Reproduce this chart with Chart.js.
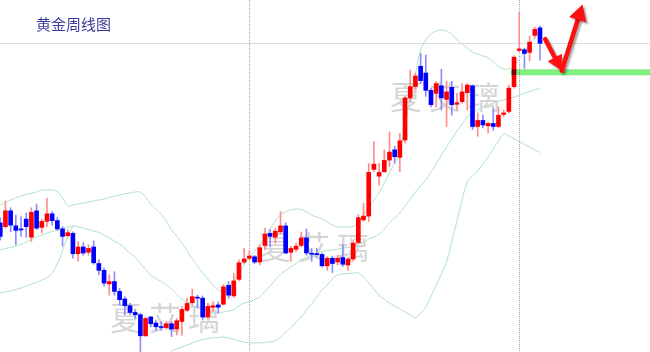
<!DOCTYPE html>
<html>
<head>
<meta charset="utf-8">
<script src="https://cdn.jsdelivr.net/npm/chart.js@4.4.0/dist/chart.umd.min.js"></script>
<style>
  html, body { margin: 0; padding: 0; background: #fff; }
  #wrap { position: relative; width: 650px; height: 352px; }
  #title { position: absolute; left: 36px; top: 13px; font: 15px "Noto Sans CJK SC", sans-serif; color: #3c3c9c; }
</style>
</head>
<body>
<div id="wrap">
  <canvas id="chart" width="650" height="352"></canvas>
  <div id="title">黄金周线图</div>
</div>
<script>
// weekly gold candles, one entry per week (index = week number on the chart)
const opens = [1331,1326,1347,1327,1323,1336,1312,1347,1325,1333,
  1343,1334,1323,1314,1317,1290,1299,1292,1299,1277,
  1268,1250,1253,1240,1230,1221,1212,1209,1181,1206,
  1198,1193,1192,1197,1190,1200,1215,1225,1232,1231,
  1206,1219,1222,1223,1248,1234,1256,1279,1284,1286,
  1279,1301,1317,1312,1319,1327,1292,1296,1301,1311,
  1290.6,1290.1,1289,1274,1284,1279,1285,1275,1283,1305,
  1335,1340,1402,1393,1399,1414.5,1428,1418,1441,1497,
  1512,1539,1530,1507,1503,1513,1495,1511,1488.5,1492,
  1504,1513,1459,1467,1460,1463,1459,1475,1479,1512,
  1560,1561,1557.5,1580,1590];
const highs = [1338,1360,1351,1341,1339,1344,1351,1356,1336,1364,
  1346,1338,1326,1322,1319,1306,1305,1302,1307,1282,
  1271,1262,1266,1244,1233,1224,1215,1211,1206,1207,
  1202,1200,1200,1200,1204,1220,1231,1243,1235,1234,
  1224,1226,1226,1249,1253,1264,1282,1297,1294,1288,
  1302,1324,1322,1324,1346,1331,1300,1304,1319,1323,
  1297,1297,1291,1286,1287,1288,1302,1285,1307,1342,
  1357,1410,1439,1410,1428,1452,1433,1450,1499,1534,
  1530,1556,1554,1510,1519,1535,1519,1519,1503,1516,
  1516,1514,1477,1474,1465,1483,1485,1481,1514,1553,
  1611,1563,1579,1591,1592.5];
const lows = [1308,1324,1319,1302,1313,1312,1306,1322,1318,1326,
  1328,1321,1300,1312,1284,1280,1288,1288,1276,1262,
  1247,1235,1235,1222,1209,1209,1204,1160,1180,1193,
  1188,1188,1190,1180,1182,1182,1213,1222,1218,1202,
  1204,1213,1211,1222,1231,1232,1254,1277,1282,1277,
  1275,1295,1299,1304,1317,1290,1280,1293,1299,1288,
  1280,1286,1272,1268,1265,1275,1273,1268,1280,1303,
  1333,1333,1399,1381,1398,1406,1410,1399,1437,1492,
  1508,1516,1499,1485,1485,1481,1459,1474,1481,1490,
  1481,1455,1446,1457,1450,1454,1457,1472,1477,1510,
  1558,1536,1546,1576,1547];
const closes = [1313,1347,1328,1321,1321.6,1326,1345,1324,1333,1343,
  1334,1323,1313,1318,1290,1299,1291,1297,1278,1268,
  1251,1253,1240,1229,1221,1212,1209,1181,1204,1197,
  1193,1192,1197,1190,1201,1216,1224,1233,1231,1206,
  1220,1221,1219,1246,1235,1254,1278,1283,1287,1279,
  1298,1316,1313,1320,1327,1291,1297,1300,1311,1291,
  1289.3,1288.8,1274,1284,1277,1284,1276,1283,1304,1338,
  1340,1398,1409,1398,1414,1425,1419,1440,1497,1512,
  1526,1520,1507,1488,1516,1497,1505,1488,1490.6,1505,
  1514,1459,1467,1461,1463,1459,1474,1477,1510,1551,
  1562,1556,1571,1588,1569.5];

// Bollinger bands as drawn on the chart
const bandUpper = [1354.8,1358.1,1361.4,1364.1,1366.7,1368.7,1370.3,1372.0,1374.7,1374.7,
  1374.7,1372.0,1364.1,1353.4,1354.8,1356.1,1357.4,1358.7,1360.1,1361.4,
  1362.7,1364.7,1366.7,1368.0,1369.4,1370.7,1372.0,1372.0,1365.4,1356.1,
  1349.4,1342.8,1333.5,1321.6,1313.6,1304.3,1293.7,1283.0,1273.8,1264.5,
  1256.5,1248.5,1241.9,1240.6,1245.9,1253.8,1264.5,1275.1,1284.4,1293.7,
  1301.6,1312.3,1322.9,1333.5,1341.5,1345.5,1348.1,1349.4,1348.8,1345.5,
  1341.5,1338.8,1336.2,1332.2,1328.2,1325.5,1325.5,1325.5,1326.2,1332.2,
  1341.5,1352.1,1361.4,1370.7,1384.0,1397.3,1410.5,1425.1,1462.3,1498.2,
  1528.7,1560.6,1573.9,1581.8,1585.8,1587.2,1585.8,1581.8,1573.9,1568.6,
  1563.3,1557.9,1555.3,1552.6,1550.6,1544.7,1538.7,1535.4,1535.4,1540.7,
  1548.6,1557.9,1568.6,1577.9,1587.2];
const bandMiddle = [1295.0,1296.7,1298.5,1300.3,1302.2,1305.6,1308.9,1312.3,1314.9,1317.3,
  1319.6,1321.6,1323.4,1325.3,1326.9,1325.5,1324.2,1322.2,1320.2,1318.2,
  1314.9,1310.9,1307.0,1303.0,1297.0,1291.0,1285.0,1277.1,1269.1,1261.1,
  1257.2,1253.2,1248.5,1243.2,1236.6,1229.9,1225.9,1222.0,1218.0,1215.3,
  1214.0,1212.0,1211.3,1212.7,1214.0,1215.3,1220.6,1224.6,1225.9,1229.3,
  1232.6,1239.9,1247.2,1255.2,1262.5,1267.8,1272.4,1277.1,1281.7,1285.7,
  1288.4,1291.0,1293.0,1294.3,1295.0,1296.3,1297.7,1298.3,1299.6,1303.0,
  1305.6,1309.6,1312.3,1316.2,1322.9,1330.9,1337.5,1344.1,1353.4,1362.7,
  1372.0,1380.0,1388.0,1398.6,1409.2,1421.2,1431.8,1442.4,1453.0,1462.3,
  1471.6,1476.9,1480.9,1484.9,1487.6,1490.2,1492.2,1494.2,1496.2,1498.2,
  1500.2,1503.5,1505.5,1507.5,1510.1];
const bandLower = [1237.9,1239.2,1240.6,1242.5,1244.5,1247.2,1249.8,1251.8,1255.2,1257.8,
  1264.5,1276.4,1293.7,1313.6,1326.9,null,null,null,null,null,
  null,null,null,null,null,null,null,null,null,null,
  null,null,1154.2,1160.9,1163.5,1166.2,1168.8,1171.5,1174.2,1176.1,
  1177.5,1178.1,1178.8,1179.5,1178.1,1176.1,1174.2,1172.8,1171.5,1171.5,
  1171.5,1172.2,1172.8,1174.2,1179.5,1186.1,1191.4,1199.4,1206.0,1215.3,
  1223.3,1232.6,1241.9,1248.5,1256.5,1261.8,1263.1,1263.8,1264.5,1264.5,
  1259.1,1251.2,1243.2,1235.2,1229.9,1224.6,1220.6,1216.6,1212.7,1208.7,
  1204.7,1211.3,1219.3,1233.9,1248.5,1263.1,1279.1,1305.6,1333.5,1361.4,
  1385.3,1393.3,1399.9,1409.2,1418.5,1429.1,1439.8,1449.0,1446.4,1442.4,
  1439.1,1435.1,1431.8,1427.8,1424.5];

const yearStarts = [48, 100];      // weeks where a new year begins
const refLevel = 1570;             // grey price line
const supportLevel = 1531;         // green support
const supportFrom = 98.4;
const forecast = [[105.0, 1575], [108.2, 1533], [112.2, 1621]];  // pullback then up
const watermark = '夏艾璃';

const RED = '#ff0000', BLUE = '#0000ff';
const isUp = opens.map((o, i) => closes[i] >= o);

const pts = arr => arr.map((v, i) => ({ x: i, y: v }));

const backdrop = {
  id: 'backdrop',
  beforeDatasetsDraw(chart) {
    const { ctx, chartArea: a, scales: { x, y } } = chart;
    ctx.save();
    ctx.font = '32px "Noto Sans CJK SC"';
    ctx.fillStyle = 'rgba(150,150,150,0.4)';
    ctx.textAlign = 'center';
    ctx.textBaseline = 'middle';
    [[406, 97], [275, 247], [126, 318]].forEach(([cx, cy]) => {
      [...watermark].forEach((ch, k) => ctx.fillText(ch, cx + k * 39, cy));
    });

    const yr = Math.round(y.getPixelForValue(refLevel)) + 0.5;
    ctx.strokeStyle = '#dcdcdc';
    ctx.lineWidth = 1;
    ctx.beginPath();
    ctx.moveTo(a.left, yr);
    ctx.lineTo(a.right, yr);
    ctx.stroke();

    ctx.strokeStyle = '#a8a8a8';
    ctx.setLineDash([1, 1]);
    yearStarts.forEach(w => {
      const px = Math.round(x.getPixelForValue(w)) + 0.5;
      ctx.beginPath();
      ctx.moveTo(px, a.top);
      ctx.lineTo(px, a.bottom);
      ctx.stroke();
    });
    ctx.restore();
  }
};

function arrow(ctx, x0, y0, x1, y1, head, half) {
  const ang = Math.atan2(y1 - y0, x1 - x0);
  const bx = x1 - Math.cos(ang) * head, by = y1 - Math.sin(ang) * head;
  ctx.beginPath();
  ctx.moveTo(x0, y0);
  ctx.lineTo(bx, by);
  ctx.stroke();
  ctx.beginPath();
  ctx.moveTo(x1, y1);
  ctx.lineTo(bx + Math.sin(ang) * half, by - Math.cos(ang) * half);
  ctx.lineTo(bx - Math.sin(ang) * half, by + Math.cos(ang) * half);
  ctx.closePath();
  ctx.fill();
}

const overlay = {
  id: 'overlay',
  afterDatasetsDraw(chart) {
    const { ctx, chartArea: a, scales: { x, y } } = chart;
    ctx.save();
    ctx.globalCompositeOperation = 'multiply';
    ctx.fillStyle = '#80f080';
    const gy = y.getPixelForValue(supportLevel);
    const gx = x.getPixelForValue(supportFrom);
    ctx.fillRect(gx, gy - 3, a.right - gx, 6);
    ctx.restore();

    ctx.save();
    ctx.strokeStyle = '#ff1010';
    ctx.fillStyle = '#ff1010';
    ctx.lineWidth = 4.5;
    ctx.lineCap = 'round';
    ctx.shadowColor = 'rgba(0,0,0,0.35)';
    ctx.shadowBlur = 2;
    ctx.shadowOffsetX = 2;
    ctx.shadowOffsetY = 2;
    const p = forecast.map(([w, v]) => [x.getPixelForValue(w), y.getPixelForValue(v)]);
    arrow(ctx, p[0][0], p[0][1], p[1][0], p[1][1], 15, 8);
    arrow(ctx, p[1][0], p[1][1], p[2][0], p[2][1], 16, 9);
    ctx.restore();
  }
};

const bandStyle = { type: 'line', borderColor: '#b0e2c8', borderWidth: 1, pointRadius: 0, tension: 0.35, spanGaps: false, order: 2 };

new Chart(document.getElementById('chart'), {
  type: 'bar',
  data: {
    datasets: [
      {
        label: 'body',
        data: opens.map((o, i) => ({ x: i, y: [o, closes[i]] })),
        backgroundColor: isUp.map(u => u ? RED : BLUE),
        barThickness: 4,
        minBarLength: 1,
        grouped: false,
        order: 0
      },
      {
        label: 'wick',
        data: lows.map((l, i) => ({ x: i, y: [l, highs[i]] })),
        backgroundColor: isUp.map(u => u ? '#ff8c8c' : '#8c8cff'),
        barThickness: 1,
        grouped: false,
        order: 1
      },
      { ...bandStyle, label: 'upper', data: pts(bandUpper) },
      { ...bandStyle, label: 'middle', data: pts(bandMiddle) },
      { ...bandStyle, label: 'lower', data: pts(bandLower) }
    ]
  },
  options: {
    responsive: false,
    animation: false,
    events: [],
    layout: { padding: 0 },
    plugins: { legend: { display: false }, tooltip: { enabled: false } },
    scales: {
      x: { type: 'linear', min: -0.05, max: 125.2, offset: false, display: false },
      y: { min: 1159.5, max: 1627, display: false }
    }
  },
  plugins: [backdrop, overlay]
});
</script>
</body>
</html>
